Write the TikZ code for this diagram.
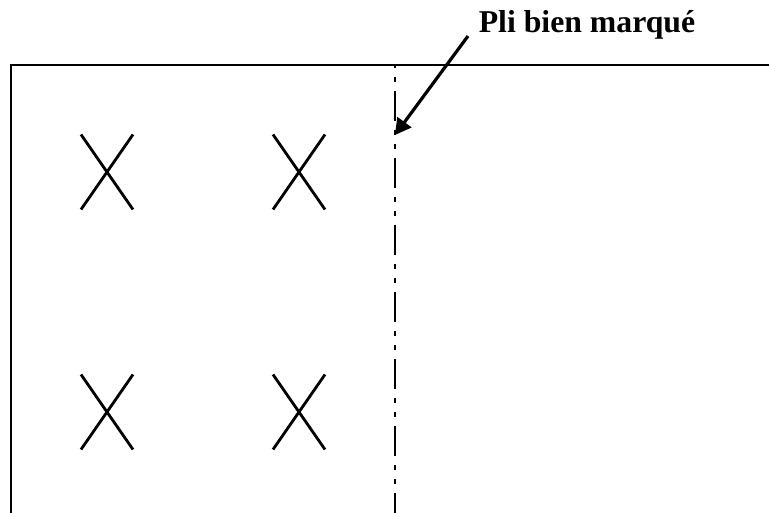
\documentclass[tikz,border=0pt]{standalone}
\usepackage{fontspec}
\setmainfont{Liberation Serif}
\usetikzlibrary{arrows.meta,calc}
\begin{document}
\begin{tikzpicture}[x=1pt,y=-1pt,
  frame/.style={line width=2.2pt},
  cross/.style={line width=2.8pt},
  fold/.style={line width=2pt, dash pattern=on 30pt off 9pt on 5pt off 9pt on 5pt off 9pt, dash phase=41pt},
  pointer/.style={line width=3.2pt, -{Triangle[length=16pt,width=17pt]}},
  label/.style={font=\bfseries\fontsize{31.75}{38}\selectfont, inner sep=0pt}]
\useasboundingbox (0,0) rectangle (769,513);
% frame
\draw[frame] (11,513) -- (11,65) -- (769,65);
% fold line
\draw[fold] (395,65) -- (395,513);
% crosses
\foreach \cx/\cy/\nm in {107/172/a, 299/172/b, 107/412/c, 299/412/d}{
  \coordinate (x\nm) at (\cx,\cy);
  \draw[cross] ($(x\nm)+(-26,-37.5)$) -- ($(x\nm)+(26,37.5)$);
  \draw[cross] ($(x\nm)+(-26,37.5)$) -- ($(x\nm)+(26,-37.5)$);
}
% label and arrow
\node[label] (lbl) at (587,25) {Pli bien marqué};
\coordinate (tail) at (468,36);
\coordinate (tip) at (395,135);
\draw[pointer] (tail) -- (tip);
\end{tikzpicture}
\end{document}
